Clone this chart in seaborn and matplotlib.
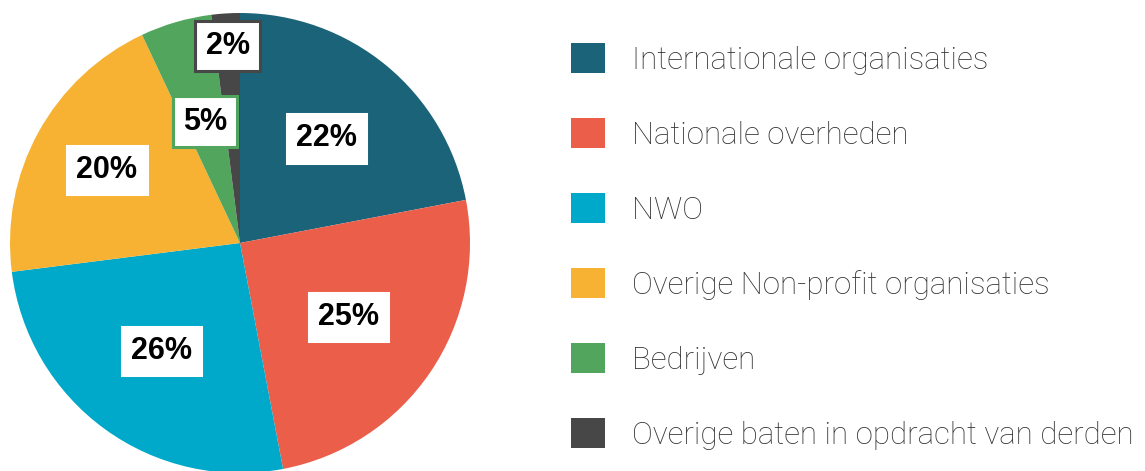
import numpy as np
import pandas as pd
import matplotlib
matplotlib.use("Agg")
import matplotlib.pyplot as plt
import seaborn as sns

categories = ["Internationale organisaties", "Nationale overheden", "NWO",
              "Overige Non-profit organisaties", "Bedrijven",
              "Overige baten in opdracht van derden"]
values = [22, 25, 26, 20, 5, 2]
value_labels = ["22%", "25%", "26%", "20%", "5%", "2%"]

colors = ["#1b6379", "#eb5e4a", "#00a9c9", "#f7b233", "#52a55d", "#474747"]
label_dist = [0.59, 0.57, 0.58, 0.66, 0.55, 0.86]
label_edge = ["white", "white", "white", "white", "#52a55d", "#474747"]

sns.set_theme(style="white")
plt.rcParams['font.family'] = ['Liberation Sans', 'DejaVu Sans']

df = pd.DataFrame({"cat": categories, "val": values, "lab": value_labels})

W, H = 1145, 471
fig = plt.figure(figsize=(W / 100, H / 100), dpi=100)
cx, cy, r = 240, 243, 230
ax = fig.add_axes([(cx - r) / W, (H - cy - r) / H, 2 * r / W, 2 * r / H])
ax.set_axis_off()

wedges, _ = ax.pie(df["val"], colors=sns.color_palette(colors), startangle=90,
                   counterclock=False, radius=1, wedgeprops=dict(linewidth=0))
ax.set_xlim(-1, 1)
ax.set_ylim(-1, 1)

for w, lab, d, ec in zip(wedges, df["lab"], label_dist, label_edge):
    ang = np.deg2rad((w.theta1 + w.theta2) / 2)
    x, y = d * np.cos(ang), d * np.sin(ang)
    pad = 0.3 if ec == "white" else 0.33
    ax.text(x, y, lab, ha="center", va="center", fontsize=22, fontweight="bold",
            color="black", zorder=5,
            bbox=dict(boxstyle=f"square,pad={pad}", facecolor="white",
                      edgecolor=ec, linewidth=2.2))

leg = fig.legend(wedges, df["cat"], loc="upper left",
                 bbox_to_anchor=(571 / W, 1 - 43 / H), frameon=False,
                 prop=dict(family=["Roboto", "DejaVu Sans"], weight="light", size=22.5),
                 handlelength=1.1, handleheight=1.1, handletextpad=0.85,
                 labelspacing=1.39, borderpad=0, borderaxespad=0)
for t in leg.get_texts():
    t.set_color("#333333")

fig.savefig("out.png", dpi=100)
